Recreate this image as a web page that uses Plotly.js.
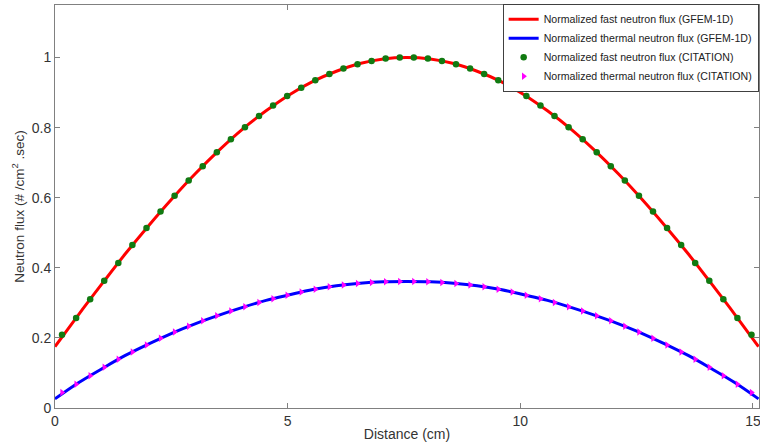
<!DOCTYPE html>
<html>
<head>
<meta charset="utf-8">
<script src="https://cdn.plot.ly/plotly-3.0.1.min.js"></script>
<style>
  html, body { margin: 0; padding: 0; background: #fff; }
  #chart { width: 760px; height: 442px; }
</style>
</head>
<body>
<div id="chart"></div>
<script>
// GFEM-1D solution, sampled along the slab (cm)
const lineX = [0, 0.504, 1.008, 1.512, 2.016, 2.52, 3.024, 3.528, 4.032, 4.536, 5.04,
  5.544, 6.048, 6.552, 7.056, 7.56, 8.064, 8.568, 9.072, 9.576, 10.08, 10.584,
  11.088, 11.592, 12.096, 12.6, 13.104, 13.608, 14.112, 14.616, 15.12];
const fastGfem = [0.175, 0.266, 0.354, 0.440, 0.521, 0.598, 0.670, 0.736, 0.796, 0.848, 0.894,
  0.932, 0.961, 0.983, 0.996, 1.000, 0.996, 0.983, 0.961, 0.932, 0.894, 0.848,
  0.796, 0.736, 0.670, 0.598, 0.521, 0.440, 0.354, 0.266, 0.175];
const thermalGfem = [0.026, 0.072, 0.112, 0.150, 0.183, 0.214, 0.241, 0.265, 0.287, 0.307, 0.323,
  0.338, 0.349, 0.356, 0.360, 0.361, 0.360, 0.356, 0.349, 0.338, 0.323, 0.307,
  0.287, 0.265, 0.241, 0.214, 0.183, 0.150, 0.112, 0.072, 0.026];

// CITATION results at mesh-cell centres (cm)
const citX = [0.151, 0.454, 0.756, 1.058, 1.361, 1.663, 1.966, 2.268, 2.570, 2.873,
  3.175, 3.478, 3.780, 4.082, 4.385, 4.687, 4.990, 5.292, 5.594, 5.897,
  6.199, 6.502, 6.804, 7.106, 7.409, 7.711, 8.014, 8.316, 8.618, 8.921,
  9.223, 9.526, 9.828, 10.130, 10.433, 10.735, 11.038, 11.340, 11.642, 11.945,
  12.247, 12.550, 12.852, 13.154, 13.457, 13.759, 14.062, 14.364, 14.666, 14.969];
const fastCit = [0.209, 0.257, 0.310, 0.363, 0.414, 0.465, 0.514, 0.561, 0.606, 0.649,
  0.690, 0.730, 0.767, 0.801, 0.833, 0.863, 0.890, 0.914, 0.935, 0.953,
  0.969, 0.981, 0.990, 0.997, 1.000, 1.000, 0.997, 0.990, 0.981, 0.969,
  0.953, 0.935, 0.914, 0.890, 0.863, 0.833, 0.801, 0.767, 0.730, 0.690,
  0.649, 0.606, 0.561, 0.514, 0.465, 0.414, 0.363, 0.310, 0.257, 0.209];
const thermalCit = [0.044, 0.068, 0.092, 0.116, 0.139, 0.160, 0.180, 0.199, 0.217, 0.233,
  0.249, 0.263, 0.277, 0.289, 0.301, 0.312, 0.322, 0.331, 0.339, 0.346,
  0.351, 0.355, 0.358, 0.360, 0.361, 0.361, 0.360, 0.358, 0.355, 0.351,
  0.346, 0.339, 0.331, 0.322, 0.312, 0.301, 0.289, 0.277, 0.263, 0.249,
  0.233, 0.217, 0.199, 0.180, 0.160, 0.139, 0.116, 0.092, 0.068, 0.044];

const seriesNames = [
  'Normalized fast neutron flux (GFEM-1D)',
  'Normalized thermal neutron flux (GFEM-1D)',
  'Normalized fast neutron flux (CITATION)',
  'Normalized thermal neutron flux (CITATION)'
];

const FONT = 'Liberation Sans, Arial, sans-serif';

const traces = [
  { x: lineX, y: fastGfem, name: seriesNames[0], type: 'scatter', mode: 'lines',
    line: { color: '#ff0000', width: 3, shape: 'spline' } },
  { x: lineX, y: thermalGfem, name: seriesNames[1], type: 'scatter', mode: 'lines',
    line: { color: '#0000ff', width: 3, shape: 'spline' } },
  { x: citX, y: fastCit, name: seriesNames[2], type: 'scatter', mode: 'markers',
    marker: { color: '#117a11', size: 6.5, symbol: 'circle' } },
  { x: citX, y: thermalCit, name: seriesNames[3], type: 'scatter', mode: 'markers',
    marker: { color: '#ff00ff', size: 6.5, symbol: 'triangle-right' } }
];

const axisCommon = {
  showgrid: false, zeroline: false,
  showline: true, linecolor: '#808080', linewidth: 1, mirror: 'ticks',
  ticks: 'inside', ticklen: 5, tickcolor: '#808080',
  ticklabeloverflow: 'allow',
  tickfont: { family: FONT, size: 14, color: '#333333' }
};

const layout = {
  width: 760, height: 442,
  margin: { l: 55, r: 1, t: 5, b: 34 },
  paper_bgcolor: '#ffffff', plot_bgcolor: '#ffffff',
  font: { family: FONT, color: '#333333' },
  showlegend: true,
  legend: {
    x: 0.9995, y: 1.003, xanchor: 'right', yanchor: 'top',
    bgcolor: '#ffffff', bordercolor: '#404040', borderwidth: 1,
    font: { family: FONT, size: 10.6, color: '#222222' },
    tracegroupgap: 0, itemwidth: 30
  },
  xaxis: Object.assign({}, axisCommon, {
    range: [0, 15.13], tickvals: [0, 5, 10, 15],
    title: { text: 'Distance (cm)', standoff: 2,
      font: { family: FONT, size: 14, color: '#333333' } }
  }),
  yaxis: Object.assign({}, axisCommon, {
    range: [0, 1.15], tickvals: [0, 0.2, 0.4, 0.6, 0.8, 1],
    ticktext: ['0', '0.2', '0.4', '0.6', '0.8', '1'],
    title: { text: 'Neutron flux (# /cm<sup>2</sup> .sec)', standoff: 4,
      font: { family: FONT, size: 13.5, color: '#333333' } }
  })
};

Plotly.newPlot('chart', traces, layout, { displayModeBar: false, staticPlot: true });
</script>
</body>
</html>
